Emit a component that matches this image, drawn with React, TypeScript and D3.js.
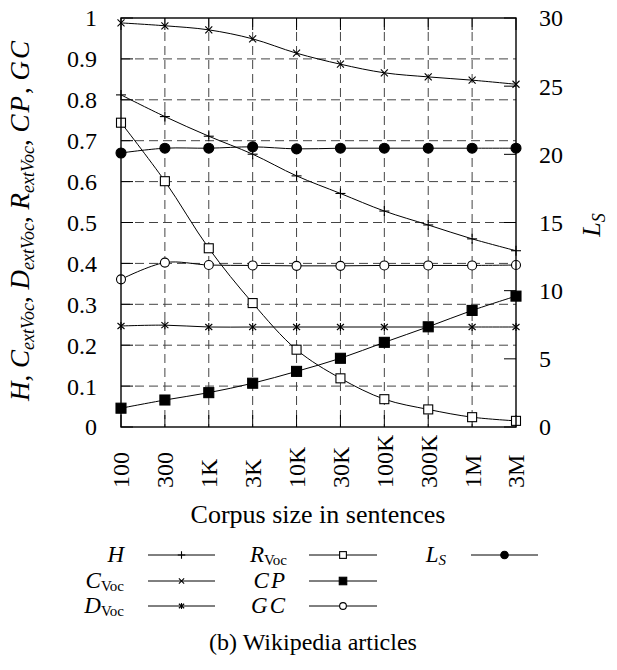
import React from "react";
import * as d3 from "d3";

const sizes = ["100", "300", "1K", "3K", "10K", "30K", "100K", "300K", "1M", "3M"];
const hValues = [0.812, 0.759, 0.711, 0.667, 0.614, 0.571, 0.528, 0.494, 0.46, 0.431];
const cVocValues = [0.988, 0.981, 0.971, 0.949, 0.914, 0.887, 0.866, 0.856, 0.848, 0.838];
const dVocValues = [0.247, 0.249, 0.2445, 0.2445, 0.2445, 0.2445, 0.2445, 0.2445, 0.2445, 0.2445];
const rVocValues = [0.744, 0.601, 0.437, 0.303, 0.189, 0.119, 0.068, 0.043, 0.024, 0.015];
const cpValues = [0.046, 0.066, 0.084, 0.107, 0.136, 0.168, 0.207, 0.245, 0.285, 0.32];
const gcValues = [0.361, 0.402, 0.396, 0.395, 0.394, 0.394, 0.395, 0.395, 0.395, 0.396];
const lsValues = [20.1, 20.45, 20.45, 20.55, 20.4, 20.45, 20.45, 20.45, 20.45, 20.45];

const leftTicks = [0, 0.1, 0.2, 0.3, 0.4, 0.5, 0.6, 0.7, 0.8, 0.9, 1];
const rightTicks = [0, 5, 10, 15, 20, 25, 30];

const FONT = "'Liberation Serif', 'Times New Roman', serif";

type MarkerKind = "plus" | "x" | "star" | "sqOpen" | "sqFill" | "circOpen" | "circFill";

function Marker({ kind, x, y, s = 1 }: { kind: MarkerKind; x: number; y: number; s?: number }) {
  const st = { stroke: "#000", strokeWidth: 1.1 };
  switch (kind) {
    case "plus":
      return (
        <g {...st}>
          <line x1={x - 5 * s} x2={x + 5 * s} y1={y} y2={y} />
          <line x1={x} x2={x} y1={y - 5 * s} y2={y + 5 * s} />
        </g>
      );
    case "x":
      return (
        <g {...st}>
          <line x1={x - 3.5 * s} x2={x + 3.5 * s} y1={y - 3.5 * s} y2={y + 3.5 * s} />
          <line x1={x - 3.5 * s} x2={x + 3.5 * s} y1={y + 3.5 * s} y2={y - 3.5 * s} />
        </g>
      );
    case "star":
      return (
        <g {...st}>
          <line x1={x - 3.5 * s} x2={x + 3.5 * s} y1={y - 3 * s} y2={y + 3 * s} />
          <line x1={x - 3.5 * s} x2={x + 3.5 * s} y1={y + 3 * s} y2={y - 3 * s} />
          <line x1={x} x2={x} y1={y - 4 * s} y2={y + 4 * s} />
        </g>
      );
    case "sqOpen":
      return <rect x={x - 4.5 * s} y={y - 4.5 * s} width={9 * s} height={9 * s} fill="#fff" {...st} />;
    case "sqFill":
      return <rect x={x - 5 * s} y={y - 5 * s} width={10 * s} height={10 * s} fill="#000" {...st} />;
    case "circOpen":
      return <circle cx={x} cy={y} r={4.5 * s} fill="#fff" {...st} />;
    case "circFill":
      return <circle cx={x} cy={y} r={5 * s} fill="#000" {...st} />;
  }
}

export default function App() {
  const left = 121, right = 516, top = 18, bottom = 427;
  const x = d3.scalePoint<string>().domain(sizes).range([left, right]);
  const y = d3.scaleLinear().domain([0, 1]).range([bottom, top]);
  const y2 = d3.scaleLinear().domain([0, 30]).range([bottom, top]);

  const series: { vals: number[]; kind: MarkerKind; scale: d3.ScaleLinear<number, number> }[] = [
    { vals: hValues, kind: "plus", scale: y },
    { vals: cVocValues, kind: "x", scale: y },
    { vals: dVocValues, kind: "star", scale: y },
    { vals: rVocValues, kind: "sqOpen", scale: y },
    { vals: cpValues, kind: "sqFill", scale: y },
    { vals: gcValues, kind: "circOpen", scale: y },
    { vals: lsValues, kind: "circFill", scale: y2 },
  ];

  const line = (vals: number[], sc: d3.ScaleLinear<number, number>) =>
    d3
      .line<number>()
      .x((_, i) => x(sizes[i]) as number)
      .y((v) => sc(v))
      .curve(d3.curveCatmullRom.alpha(0.5))(vals) as string;

  const it = { fontStyle: "italic" as const };
  const sub = (t: string) => (
    <tspan fontStyle="normal" fontSize={15} dy={3}>
      {t}
    </tspan>
  );

  const legendRows = [
    { col: 0, row: 0, kind: "plus" as MarkerKind, label: <tspan {...it}>H</tspan> },
    { col: 0, row: 1, kind: "x" as MarkerKind, label: <><tspan {...it}>C</tspan>{sub("Voc")}</> },
    { col: 0, row: 2, kind: "star" as MarkerKind, label: <><tspan {...it}>D</tspan>{sub("Voc")}</> },
    { col: 1, row: 0, kind: "sqOpen" as MarkerKind, label: <><tspan {...it}>R</tspan>{sub("Voc")}</> },
    { col: 1, row: 1, kind: "sqFill" as MarkerKind, label: <tspan {...it} letterSpacing={2}>CP</tspan> },
    { col: 1, row: 2, kind: "circOpen" as MarkerKind, label: <tspan {...it} letterSpacing={2}>GC</tspan> },
    { col: 2, row: 0, kind: "circFill" as MarkerKind, label: <><tspan {...it}>L</tspan><tspan {...it} fontSize={15} dy={3}>S</tspan></> },
  ];
  const colLabelX = [124, 287, 446];
  const colLineX = [[148, 215], [309, 377], [471, 538]];
  const rowY = [555, 581, 606];

  return (
    <svg
      width={617}
      height={670}
      style={{ position: "absolute", left: 0, top: 0, background: "#fff" }}
      fontFamily={FONT}
    >
      <rect width={617} height={670} fill="#fff" />
      {/* grid */}
      <g stroke="#444" strokeWidth={1} strokeDasharray="9,5">
        {leftTicks.slice(1, -1).map((t) => (
          <line key={"h" + t} x1={left} x2={right} y1={y(t)} y2={y(t)} />
        ))}
        {sizes.slice(1, -1).map((s) => (
          <line key={"v" + s} x1={x(s)} x2={x(s)} y1={top} y2={bottom} />
        ))}
      </g>
      {/* inward ticks */}
      <g stroke="#000" strokeWidth={1}>
        {leftTicks.map((t) => (
          <line key={"lt" + t} x1={left} x2={left + 12} y1={y(t)} y2={y(t)} />
        ))}
        {rightTicks.map((t) => (
          <line key={"rt" + t} x1={right - 12} x2={right} y1={y2(t)} y2={y2(t)} />
        ))}
        {sizes.map((s) => (
          <g key={"bt" + s}>
            <line x1={x(s)} x2={x(s)} y1={bottom} y2={bottom - 12} />
            <line x1={x(s)} x2={x(s)} y1={top} y2={top + 12} />
          </g>
        ))}
      </g>
      {/* series lines */}
      <g fill="none" stroke="#000" strokeWidth={1}>
        {series.map((s, i) => (
          <path key={"p" + i} d={line(s.vals, s.scale)} />
        ))}
      </g>
      {series.map((s, i) => (
        <g key={"m" + i}>
          {s.vals.map((v, j) => (
            <Marker key={j} kind={s.kind} x={x(sizes[j]) as number} y={s.scale(v)} />
          ))}
        </g>
      ))}
      {/* frame */}
      <rect x={left} y={top} width={right - left} height={bottom - top} fill="none" stroke="#000" strokeWidth={1.4} />
      {/* left tick labels */}
      <g fontSize={24} textAnchor="end">
        {leftTicks.map((t) => (
          <text key={"ll" + t} x={97} y={y(t)} dy="0.35em">
            {d3.format("~g")(t)}
          </text>
        ))}
      </g>
      <g fontSize={24} textAnchor="start">
        {rightTicks.map((t) => (
          <text key={"rl" + t} x={539} y={y2(t)} dy="0.35em">
            {t}
          </text>
        ))}
      </g>
      {/* x tick labels */}
      <g fontSize={24} textAnchor="start">
        {sizes.map((s) => (
          <text key={"xl" + s} transform={`translate(${x(s)},488) rotate(-90)`} dy="0.35em">
            {s}
          </text>
        ))}
      </g>
      <text x={318} y={523} fontSize={26} textAnchor="middle">
        Corpus size in sentences
      </text>
      {/* left axis label */}
      <text transform="translate(29,220) rotate(-90)" fontSize={27} textAnchor="middle">
        <tspan {...it}>H</tspan>
        <tspan>, </tspan>
        <tspan {...it}>C</tspan>
        <tspan {...it} fontSize={18} dy={5}>extVoc</tspan>
        <tspan dy={-5}>, </tspan>
        <tspan {...it}>D</tspan>
        <tspan {...it} fontSize={18} dy={5}>extVoc</tspan>
        <tspan dy={-5}>, </tspan>
        <tspan {...it}>R</tspan>
        <tspan {...it} fontSize={18} dy={5}>extVoc</tspan>
        <tspan dy={-5}>, </tspan>
        <tspan {...it} letterSpacing={2}>CP</tspan>
        <tspan>, </tspan>
        <tspan {...it} letterSpacing={2}>GC</tspan>
      </text>
      {/* right axis label */}
      <text transform="translate(600,225) rotate(-90)" fontSize={26} textAnchor="middle">
        <tspan {...it}>L</tspan>
        <tspan {...it} fontSize={18} dy={5}>S</tspan>
      </text>
      {/* legend */}
      {legendRows.map((r, i) => (
        <g key={"lg" + i}>
          <text x={colLabelX[r.col]} y={rowY[r.row] + 7} fontSize={23} textAnchor="end">
            {r.label}
          </text>
          <line x1={colLineX[r.col][0]} x2={colLineX[r.col][1]} y1={rowY[r.row]} y2={rowY[r.row]} stroke="#000" strokeWidth={1} />
          <Marker kind={r.kind} x={(colLineX[r.col][0] + colLineX[r.col][1]) / 2} y={rowY[r.row]} s={0.75} />
        </g>
      ))}
      <text x={313} y={650} fontSize={24} textAnchor="middle">
        (b)  Wikipedia articles
      </text>
    </svg>
  );
}
